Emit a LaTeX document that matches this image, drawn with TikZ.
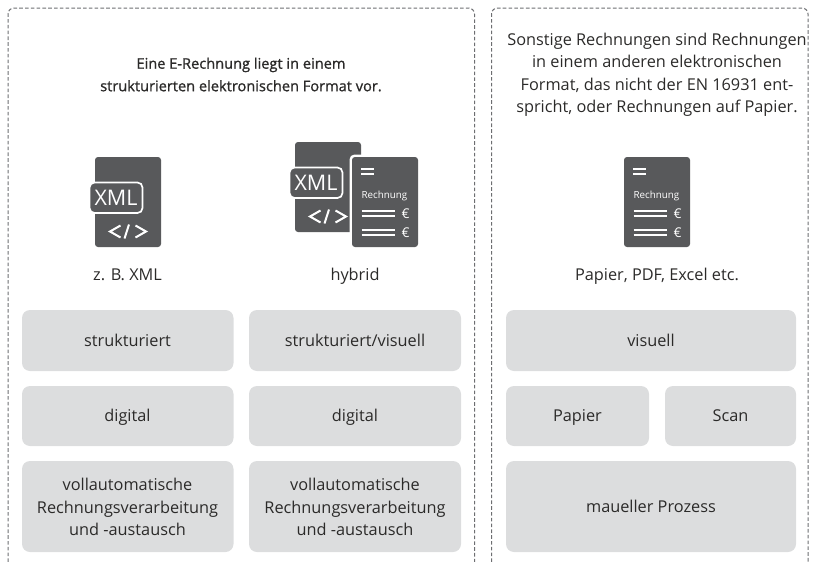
\documentclass[tikz,border=0pt]{standalone}
\usepackage{fontspec}
\setmainfont{Open Sans}
\definecolor{icon}{HTML}{58595B}
\definecolor{tile}{HTML}{DCDDDE}
\definecolor{dash}{HTML}{6D6E71}
\definecolor{ink}{HTML}{2B2A29}
\tikzset{
  panel/.style={draw=dash,line width=1pt,dash pattern=on 3.6pt off 2.2pt,rounded corners=6pt},
  tilebox/.style={fill=tile,rounded corners=8pt,draw=none},
  lbl/.style={font=\fontsize{16.3}{22.5}\selectfont,text=ink,align=center,inner sep=0pt},
  single/.style={lbl,anchor=base},
  docbody/.style={fill=icon,rounded corners=3pt,draw=none},
  wline/.style={draw=white,line width=1.6pt},
  wcode/.style={draw=white,line width=2pt},
  tagbox/.style={fill=icon,draw=white,line width=1.7pt,rounded corners=5pt},
  tagtext/.style={text=white,font=\fontsize{21.5}{22}\selectfont,inner sep=0pt},
  rech/.style={text=white,font=\fontsize{9.8}{10}\selectfont,inner sep=0pt},
  euro/.style={text=white,font=\fontsize{13.5}{14}\selectfont,inner sep=0pt}
}
% XML document icon: #1 = x of left edge of body, #2 = y of top edge
\newcommand{\xmlicon}[2]{%
  \begin{scope}[shift={(#1,#2)}]
    \fill[docbody] (0,0) rectangle (66,90);
    \draw[tagbox] (-5.5,25.5) rectangle (47.5,56);
    \node[tagtext] at (21,41) {XML};
    \draw[wcode] (25.5,68.5) -- (15,74.5) -- (25.5,80.5);
    \draw[wcode] (29.5,81.5) -- (34,67.5);
    \draw[wcode] (40.5,68.5) -- (51,74.5) -- (40.5,80.5);
  \end{scope}}
% Invoice icon: #1 = x of left edge, #2 = y of top edge
\newcommand{\invoiceicon}[2]{%
  \begin{scope}[shift={(#1,#2)}]
    \fill[docbody] (0,0) rectangle (66,90);
    \draw[wline] (9,12) -- (22,12);
    \draw[wline] (9,17) -- (22,17);
    \node[rech] at (32.5,39) {Rechnung};
    \draw[wline] (9.5,54) -- (42.5,54);
    \draw[wline] (9.5,59) -- (42.5,59);
    \node[euro] at (53.5,56.5) {€};
    \draw[wline] (9.5,73) -- (42.5,73);
    \draw[wline] (9.5,78) -- (42.5,78);
    \node[euro] at (53.5,75.5) {€};
  \end{scope}}
\begin{document}
\begin{tikzpicture}[x=1pt,y=-1pt]
\useasboundingbox (0,0) rectangle (817,562);
% panels
\draw[panel] (8,562) -- (8,8) -- (474.5,8) -- (474.5,562);
\draw[panel] (491.5,562) -- (491.5,8) -- (808,8) -- (808,562);
% headings
\node[lbl,font=\fontsize{14.6}{22.5}\selectfont\addfontfeature{FakeBold=1}] (h1) at (241,74.5) {Eine E-Rechnung liegt in einem\\strukturierten elektronischen Format vor.};
\node[lbl] (h2) at (657,75) {Sonstige Rechnungen sind Rechnungen\\in einem anderen elektronischen\\Format, das nicht der EN 16931 ent-\\spricht, oder Rechnungen auf Papier.};
% icons
\xmlicon{95}{157}
\xmlicon{295}{142}
\fill[white,rounded corners=5pt] (349.5,154.5) rectangle (420.5,249.5);
\invoiceicon{352}{157}
\invoiceicon{624}{157}
% icon captions
\node[single] (c1) at (127.5,280.5) {z. B. XML};
\node[single] (c2) at (355,280.5) {hybrid};
\node[single] (c3) at (657,280.5) {Papier, PDF, Excel etc.};
% tiles
\fill[tilebox] (22,310) rectangle (233.5,371);
\node[single] (a1) at (127.5,346) {strukturiert};
\fill[tilebox] (249,310) rectangle (461,371);
\node[single] (b1) at (355,346) {strukturiert/visuell};
\fill[tilebox] (506,310) rectangle (796,371);
\node[single] (v) at (651,346) {visuell};
\fill[tilebox] (22,386) rectangle (233.5,446);
\node[single] (a2) at (127.5,421.5) {digital};
\fill[tilebox] (249,386) rectangle (461,446);
\node[single] (b2) at (355,421.5) {digital};
\fill[tilebox] (506,386) rectangle (649,446);
\node[single] (p) at (577.5,421.5) {Papier};
\fill[tilebox] (665,386) rectangle (796,446);
\node[single] (s) at (730.5,421.5) {Scan};
\fill[tilebox] (22,461) rectangle (233.5,552);
\node[lbl] (a3) at (127.5,507) {vollautomatische\\Rechnungsverarbeitung\\und -austausch};
\fill[tilebox] (249,461) rectangle (461,552);
\node[lbl] (b3) at (355,507) {vollautomatische\\Rechnungsverarbeitung\\und -austausch};
\fill[tilebox] (506,461) rectangle (796,552);
\node[single] (m) at (651,512) {maueller Prozess};
\end{tikzpicture}
\end{document}
